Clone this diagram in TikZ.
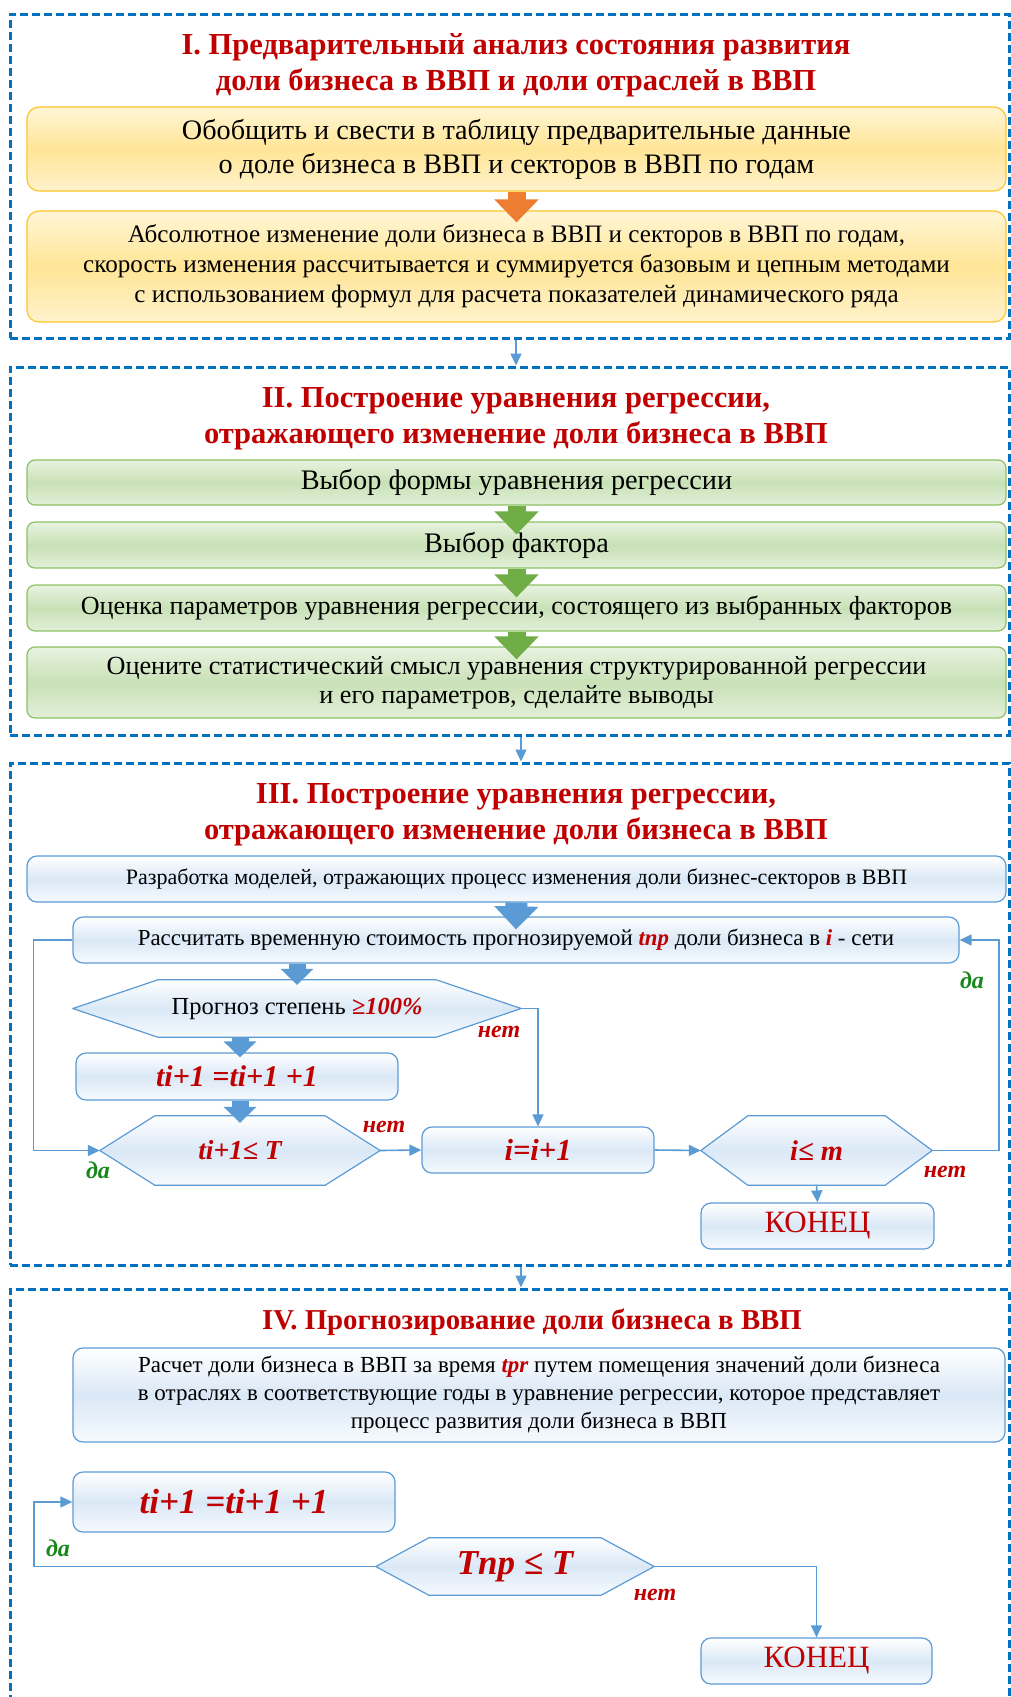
\documentclass[tikz,border=0pt]{standalone}
\usepackage{fontspec}
\setmainfont{Liberation Serif}
\usetikzlibrary{arrows.meta,backgrounds}

\definecolor{titlered}{HTML}{C00000}
\definecolor{frameblue}{HTML}{0070C0}
\definecolor{lineblue}{HTML}{5B9BD5}
\definecolor{yesgreen}{HTML}{17871B}

\newcommand{\redit}[1]{\textcolor{titlered}{\bfseries\itshape #1}}
\newcommand{\drawhex}[2]{\draw[hexline] (#1.west) -- ([xshift=#2]#1.north west) -- ([xshift=-#2]#1.north east) -- (#1.east) -- ([xshift=-#2]#1.south east) -- ([xshift=#2]#1.south west) -- cycle;}

\begin{document}
\begin{tikzpicture}[x = 1pt, y = -1pt,
                    sectframe/.style = {draw = frameblue, line width = 3pt, dash pattern = on 8pt off 4pt},
                    title/.style = {text = titlered, font = \bfseries\fontsize{30.5}{36}\selectfont, align = center},
                    yellowbox/.style = {draw = {rgb,255:red,255;green,196;blue,40}, line width = 1.2pt, rounded corners = 12pt,
                                        top color = {rgb,255:red,255;green,246;blue,214}, bottom color = {rgb,255:red,255;green,242;blue,204},
                                        middle color = {rgb,255:red,255;green,229;blue,150}, align = center},
                    greenbox/.style = {draw = {rgb,255:red,140;green,192;blue,100}, line width = 1.2pt, rounded corners = 8pt,
                                       top color = {rgb,255:red,232;green,243;blue,224}, bottom color = {rgb,255:red,226;green,239;blue,217},
                                       middle color = {rgb,255:red,200;green,225;blue,182}, align = center},
                    bluebox/.style = {draw = lineblue, line width = 1.2pt, rounded corners = 10pt,
                                      top color = white, bottom color = {rgb,255:red,246;green,250;blue,254},
                                      middle color = {rgb,255:red,218;green,232;blue,246}, align = center},
                    hexnode/.style = {align = center},
                    hexline/.style = {draw = lineblue, line width = 1.2pt, line join = round,
                                      top color = white, bottom color = {rgb,255:red,246;green,250;blue,254},
                                      middle color = {rgb,255:red,218;green,232;blue,246}},
                    link/.style = {draw = lineblue, line width = 1.6pt, -{Triangle[length = 12pt, width = 11pt]}},
                    fat/.style = {line width = 18pt, -{Triangle[length = 23pt, width = 43pt]}},
                    slim/.style = {line width = 17pt, draw = lineblue, -{Triangle[length = 16pt, width = 32pt]}},
                    yes/.style = {text = yesgreen, font = \bfseries\itshape\fontsize{24}{26}\selectfont},
                    no/.style = {text = titlered, font = \bfseries\itshape\fontsize{24}{26}\selectfont}]
      \path[use as bounding box, clip] (0, 0) rectangle (1011, 1697);

      \node [sectframe, minimum width = 999, minimum height = 324] (sec1) at (509.5, 176){};
      \node [sectframe, minimum width = 999, minimum height = 368] (sec2) at (509.5, 551){};
      \node [sectframe, minimum width = 999, minimum height = 502] (sec3) at (509.5, 1014){};
      \node [sectframe, minimum width = 999, minimum height = 428] (sec4) at (509.5, 1503){};

      \node [title] (t1) at (516, 65){I. Предварительный анализ состояния развития\\доли бизнеса в ВВП и доли отраслей в ВВП};
      \node [yellowbox, minimum width = 979, minimum height = 84, font = \fontsize{28.2}{34}\selectfont] (gather) at (516.5, 149){Обобщить и свести в таблицу предварительные данные\\о доле бизнеса в ВВП и секторов в ВВП по годам};
      \node [yellowbox, minimum width = 979, minimum height = 111, font = \fontsize{25.1}{30}\selectfont] (absolute) at (516.5, 266.5){Абсолютное изменение доли бизнеса в ВВП и секторов в ВВП по годам,\\скорость изменения рассчитывается и суммируется базовым и цепным методами\\с использованием формул для расчета показателей динамического ряда};

      \node [title] (t2) at (516, 418.5){II. Построение уравнения регрессии,\\отражающего изменение доли бизнеса в ВВП};
      \node [greenbox, minimum width = 979, minimum height = 45, font = \fontsize{28.3}{30}\selectfont] (form) at (516.5, 482.5){Выбор формы уравнения регрессии};
      \node [greenbox, minimum width = 979, minimum height = 46, font = \fontsize{28.3}{30}\selectfont] (factor) at (516.5, 545){Выбор фактора};
      \node [greenbox, minimum width = 979, minimum height = 46, font = \fontsize{26.1}{30}\selectfont] (estimate) at (516.5, 608){Оценка параметров уравнения регрессии, состоящего из выбранных факторов};
      \node [greenbox, minimum width = 979, minimum height = 71, font = \fontsize{26.2}{29}\selectfont] (meaning) at (516.5, 682.5){Оцените статистический смысл уравнения структурированной регрессии\\и его параметров, сделайте выводы};

      \node [title] (t3) at (516, 814.5){III. Построение уравнения регрессии,\\отражающего изменение доли бизнеса в ВВП};
      \node [bluebox, minimum width = 979, minimum height = 46, font = \fontsize{22}{26}\selectfont] (models) at (516.5, 879){Разработка моделей, отражающих процесс изменения доли бизнес-секторов в ВВП};
      \node [bluebox, minimum width = 886, minimum height = 46, font = \fontsize{22.9}{26}\selectfont] (calc) at (516, 940){Рассчитать временную стоимость прогнозируемой \redit{tпр} доли бизнеса в \redit{i} - сети};
      \node [hexnode, minimum width = 448, minimum height = 57, font = \fontsize{24.5}{26}\selectfont] (degree) at (297, 1008.5){Прогноз степень \redit{≥100\%}};
      \node [bluebox, minimum width = 322, minimum height = 47, font = \bfseries\itshape\fontsize{30}{32}\selectfont, text = titlered] (step1) at (237, 1076.5){ti+1 =ti+1 +1};
      \node [hexnode, minimum width = 280, minimum height = 69, font = \bfseries\itshape\fontsize{27.5}{30}\selectfont, text = titlered] (limit1) at (240, 1150.5){ti+1≤ T};
      \node [bluebox, minimum width = 232, minimum height = 46, font = \bfseries\itshape\fontsize{30.5}{32}\selectfont, text = titlered] (next) at (538, 1150){i=i+1};
      \node [hexnode, minimum width = 231, minimum height = 69, font = \bfseries\itshape\fontsize{28.5}{30}\selectfont, text = titlered] (count) at (816.5, 1150.5){i≤ m};
      \node [bluebox, minimum width = 233, minimum height = 46, font = \fontsize{31}{32}\selectfont, text = titlered] (end1) at (817.5, 1226){КОНЕЦ};

      \node [title, font = \bfseries\fontsize{28.8}{36}\selectfont] (t4) at (532, 1322){IV. Прогнозирование доли бизнеса в ВВП};
      \node [bluebox, minimum width = 932, minimum height = 94, font = \fontsize{23}{28}\selectfont] (forecast) at (539, 1395){Расчет доли бизнеса в ВВП за время \redit{tpr} путем помещения значений доли бизнеса\\в отраслях в соответствующие годы в уравнение регрессии, которое представляет\\процесс развития доли бизнеса в ВВП};
      \node [bluebox, minimum width = 322, minimum height = 60, font = \bfseries\itshape\fontsize{35}{36}\selectfont, text = titlered] (step2) at (234, 1502){ti+1 =ti+1 +1};
      \node [hexnode, minimum width = 278, minimum height = 57, font = \bfseries\itshape\fontsize{35}{36}\selectfont, text = titlered] (limit2) at (515, 1566.5){Tпр ≤ T};
      \node [bluebox, minimum width = 231, minimum height = 46, font = \fontsize{31}{32}\selectfont, text = titlered] (end2) at (816.5, 1661){КОНЕЦ};

      \node [yes] (yes1) at (972, 980){да};
      \node [no] (no1) at (499, 1032){нет};
      \node [no] (no2) at (384, 1127){нет};
      \node [yes] (yes2) at (98, 1170){да};
      \node [no] (no3) at (945, 1172){нет};
      \node [yes] (yes3) at (58, 1548){да};
      \node [no] (no4) at (655, 1595){нет};

      \begin{pgfonlayer}{background}
        \drawhex{degree}{85}
        \drawhex{limit1}{55}
        \drawhex{count}{47}
        \drawhex{limit2}{53}
      \end{pgfonlayer}

      \draw [link] ([xshift = 6.5pt]sec1.south) -- ([xshift = 6.5pt]sec2.north);
      \draw [link] ([xshift = 11.5pt]sec2.south) -- ([xshift = 11.5pt]sec3.north);
      \draw [link] ([xshift = 11.5pt]sec3.south) -- ([xshift = 11.5pt]sec4.north);

      \draw [fat, draw = {rgb,255:red,237;green,125;blue,49}] (gather.south) -- ([yshift = -12pt]absolute.north);
      \draw [fat, draw = {rgb,255:red,112;green,173;blue,71}] (form.south) -- ([yshift = -13pt]factor.north);
      \draw [fat, draw = {rgb,255:red,112;green,173;blue,71}] (factor.south) -- ([yshift = -13pt]estimate.north);
      \draw [fat, draw = {rgb,255:red,112;green,173;blue,71}] (estimate.south) -- ([yshift = -13pt]meaning.north);
      \draw [fat, line width = 22pt, draw = lineblue] (models.south) -- ([yshift = -13pt]calc.north);
      \draw [slim] (degree.north |- calc.south) -- ([yshift = -5pt]degree.north);
      \draw [slim] (limit1.north |- degree.south) -- ([yshift = -5pt]limit1.north |- step1.north);
      \draw [slim] (limit1.north |- step1.south) -- ([yshift = -7pt]limit1.north);

      \draw [link] (calc.west) -- ++(-39, 0) |- (limit1.west);
      \draw [link] (degree.east) -| (next.north);
      \draw [link] (limit1.east) -- (next.west);
      \draw [link] (next.east) -- (count.west);
      \draw [link] (count.south) -- (end1.north);
      \draw [link] (count.east) -- ++(67, 0) |- (calc.east);

      \draw [link] (limit2.west) -- ++(-342, 0) |- (step2.west);
      \draw [link] (limit2.east) -| (end2.north);
    \end{tikzpicture}
\end{document}
